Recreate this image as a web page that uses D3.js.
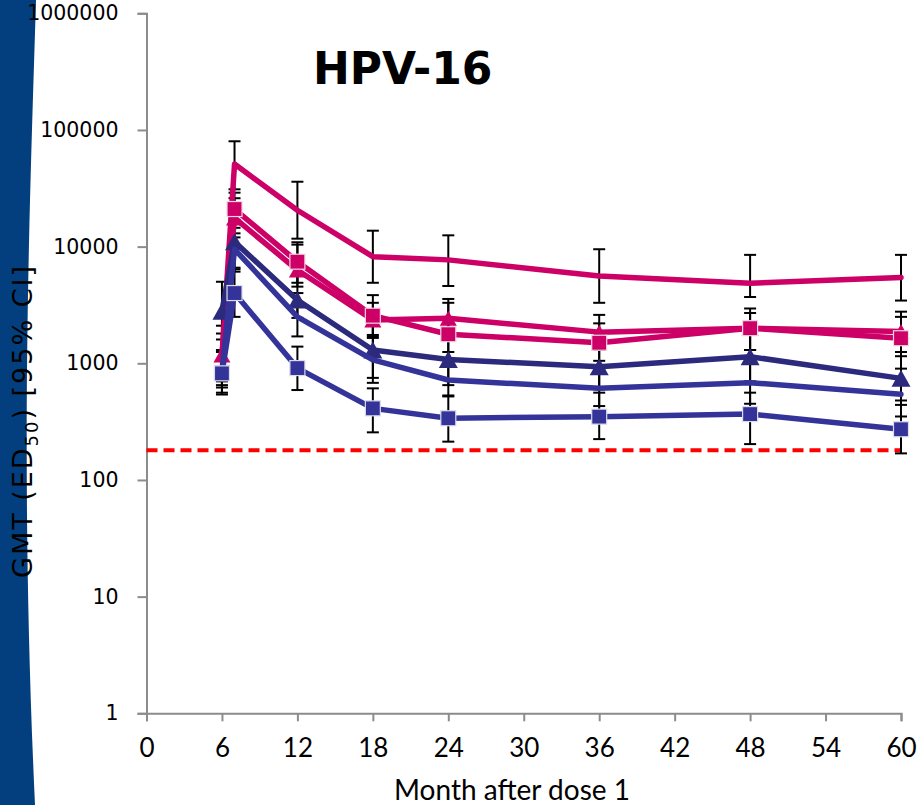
<!DOCTYPE html>
<html>
<head>
<meta charset="utf-8">
<script src="https://cdn.jsdelivr.net/npm/d3@7"></script>
<style>
  html, body { margin: 0; padding: 0; background: #ffffff; }
  svg { display: block; }
</style>
</head>
<body>
<svg id="chart" width="918" height="805"></svg>
<script>
// Months after dose 1 at which titres were measured
const months = [6, 7, 12, 18, 24, 36, 48, 60];

// Pink, no marker
const pinkLineGmt = [1150, 51000, 20500, 8200, 7700, 5600, 4850, 5450];
const pinkLineLo  = [700, 31000, 11700, 4900, 4600, 3300, 3700, 3450];
const pinkLineHi  = [1800, 80000, 36000, 13700, 12500, 9500, 8500, 8500];

// Pink, triangles
const pinkTriGmt = [1180, 17600, 6300, 2350, 2430, 1850, 2000, 1870];
const pinkTriLo  = [650, 12000, 4540, 1700, 1700, 1300, 1300, 1250];
const pinkTriHi  = [2100, 26000, 10400, 3300, 3560, 2600, 2700, 2770];

// Pink, squares
const pinkSqGmt = [830, 21000, 7430, 2560, 1775, 1500, 2000, 1640];
const pinkSqLo  = [620, 13000, 4900, 1750, 1250, 1050, 1300, 1150];
const pinkSqHi  = [2600, 29000, 10900, 3840, 3300, 2200, 2950, 2500];

// Navy, triangles
const navyTriGmt = [2800, 11000, 3490, 1300, 1080, 935, 1140, 743];
const navyTriLo  = [1600, 6600, 2450, 750, 650, 600, 700, 480];
const navyTriHi  = [5000, 17000, 5600, 2100, 1700, 1400, 1800, 1250];

// Blue, no marker
const blueLineGmt = [850, 9500, 2500, 1070, 719, 611, 682, 542];
const blueLineLo  = [560, 6100, 1700, 680, 520, 430, 450, 350];
const blueLineHi  = [1300, 14500, 4000, 1650, 1000, 880, 1000, 900];

// Blue, squares
const blueSqGmt = [820, 4000, 910, 411, 338, 349, 367, 272];
const blueSqLo  = [540, 2500, 590, 256, 213, 224, 203, 169];
const blueSqHi  = [1250, 6400, 1390, 610, 530, 560, 560, 440];

// Seropositivity cut-off
const cutoff = 180;

// Axis ticks
const xTicks = [0, 6, 12, 18, 24, 30, 36, 42, 48, 54, 60];
const yTicks = [1, 10, 100, 1000, 10000, 100000, 1000000];

const PINK = "#CC0066";
const NAVY = "#2C2A7C";
const BLUE = "#333399";

// Drawing order: pink groups first, blue groups on top
const series = [
  { gmt: pinkLineGmt, lo: pinkLineLo, hi: pinkLineHi, color: PINK, marker: null },
  { gmt: pinkTriGmt,  lo: pinkTriLo,  hi: pinkTriHi,  color: PINK, marker: "triangle" },
  { gmt: pinkSqGmt,   lo: pinkSqLo,   hi: pinkSqHi,   color: PINK, marker: "square" },
  { gmt: navyTriGmt,  lo: navyTriLo,  hi: navyTriHi,  color: NAVY, marker: "triangle" },
  { gmt: blueLineGmt, lo: blueLineLo, hi: blueLineHi, color: BLUE, marker: null },
  { gmt: blueSqGmt,   lo: blueSqLo,   hi: blueSqHi,   color: BLUE, marker: "square" }
];

const svg = d3.select("#chart");

// Slide decoration band on the left edge
const band = d3.path();
band.moveTo(0, 0);
band.lineTo(36, 0);
band.bezierCurveTo(30, 200, 19, 460, 35, 805);
band.lineTo(0, 805);
band.closePath();
svg.append("path").attr("d", band.toString()).attr("fill", "#033F7E");

const x = d3.scaleLinear().domain([0, 60]).range([146.5, 901]);
const y = d3.scaleLog().domain([1, 1000000]).range([713.3, 13.3]);

const AXIS = "#8C8C8C";

// Y axis
const yAxis = svg.append("g")
  .attr("transform", `translate(${x(0)},0)`)
  .call(d3.axisLeft(y).tickValues(yTicks).tickFormat(d3.format("d")).tickSize(9).tickPadding(19));
yAxis.select(".domain").attr("stroke", AXIS).attr("stroke-width", 2);
yAxis.selectAll(".tick line").attr("stroke", AXIS).attr("stroke-width", 2);
yAxis.selectAll(".tick text")
  .attr("fill", "#000")
  .style("font-family", "'DejaVu Sans', sans-serif")
  .style("font-size", "20.5px");

// X axis
const xAxis = svg.append("g")
  .attr("transform", `translate(0,${y(1)})`)
  .call(d3.axisBottom(x).tickValues(xTicks).tickSize(8).tickPadding(17));
xAxis.select(".domain").attr("stroke", AXIS).attr("stroke-width", 2);
xAxis.selectAll(".tick line").attr("stroke", AXIS).attr("stroke-width", 2);
xAxis.selectAll(".tick text")
  .attr("fill", "#000")
  .style("font-family", "Lato, 'Open Sans', sans-serif")
  .style("font-size", "26px");

// Cut-off line
svg.append("line")
  .attr("x1", x(0)).attr("x2", x(60))
  .attr("y1", y(cutoff)).attr("y2", y(cutoff))
  .attr("stroke", "#FF0000")
  .attr("stroke-width", 4)
  .attr("stroke-dasharray", "11,6");

// Error bars (95% CI)
const bars = svg.append("g");
series.forEach(s => {
  months.forEach((m, i) => {
    const cx = x(m);
    bars.append("line")
      .attr("x1", cx).attr("x2", cx)
      .attr("y1", y(s.lo[i])).attr("y2", y(s.hi[i]))
      .attr("stroke", "#000").attr("stroke-width", 2);
    [s.lo[i], s.hi[i]].forEach(v => {
      bars.append("line")
        .attr("x1", cx - 6).attr("x2", cx + 6)
        .attr("y1", y(v)).attr("y2", y(v))
        .attr("stroke", "#000").attr("stroke-width", 2);
    });
  });
});

// Lines and markers, one series at a time
const line = d3.line()
  .x((d, i) => x(months[i]))
  .y(d => y(d));

series.forEach(s => {
  const g = svg.append("g");
  g.append("path")
    .attr("d", line(s.gmt))
    .attr("fill", "none")
    .attr("stroke", s.color)
    .attr("stroke-width", 5.5)
    .attr("stroke-linejoin", "round")
    .attr("stroke-linecap", "round");
  if (!s.marker) return;
  s.gmt.forEach((v, i) => {
    const cx = x(months[i]), cy = y(v);
    if (s.marker === "square") {
      g.append("rect")
        .attr("x", cx - 7.5).attr("y", cy - 7.5)
        .attr("width", 15).attr("height", 15)
        .attr("fill", s.color)
        .attr("stroke", s.color === PINK ? "#F2D6E4" : "#DCDCEC")
        .attr("stroke-width", 1.2);
    } else {
      const w = s.color === NAVY ? 19 : 17, h = s.color === NAVY ? 17 : 15;
      g.append("path")
        .attr("d", `M${cx},${cy - h / 2}L${cx + w / 2},${cy + h / 2}L${cx - w / 2},${cy + h / 2}Z`)
        .attr("fill", s.color);
    }
  });
});

// Title
svg.append("text")
  .attr("x", 313).attr("y", 84)
  .style("font-family", "'DejaVu Sans', sans-serif")
  .style("font-weight", "bold")
  .style("font-size", "44px")
  .attr("fill", "#000")
  .text("HPV-16");

// Y axis title
const yt = svg.append("text")
  .attr("transform", "translate(32,422) rotate(-90)")
  .attr("text-anchor", "middle")
  .attr("textLength", 312)
  .attr("lengthAdjust", "spacing")
  .style("font-family", "'DejaVu Sans', sans-serif")
  .style("font-size", "27px")
  .attr("fill", "#000");
yt.append("tspan").text("GMT (ED");
yt.append("tspan").attr("dy", 6).style("font-size", "18px").text("50");
yt.append("tspan").attr("dy", -6).text(") [95% CI]");

// X axis title
svg.append("text")
  .attr("x", 512).attr("y", 800)
  .attr("text-anchor", "middle")
  .style("font-family", "Lato, 'Open Sans', sans-serif")
  .style("font-size", "28px")
  .attr("fill", "#000")
  .text("Month after dose 1");
</script>
</body>
</html>
